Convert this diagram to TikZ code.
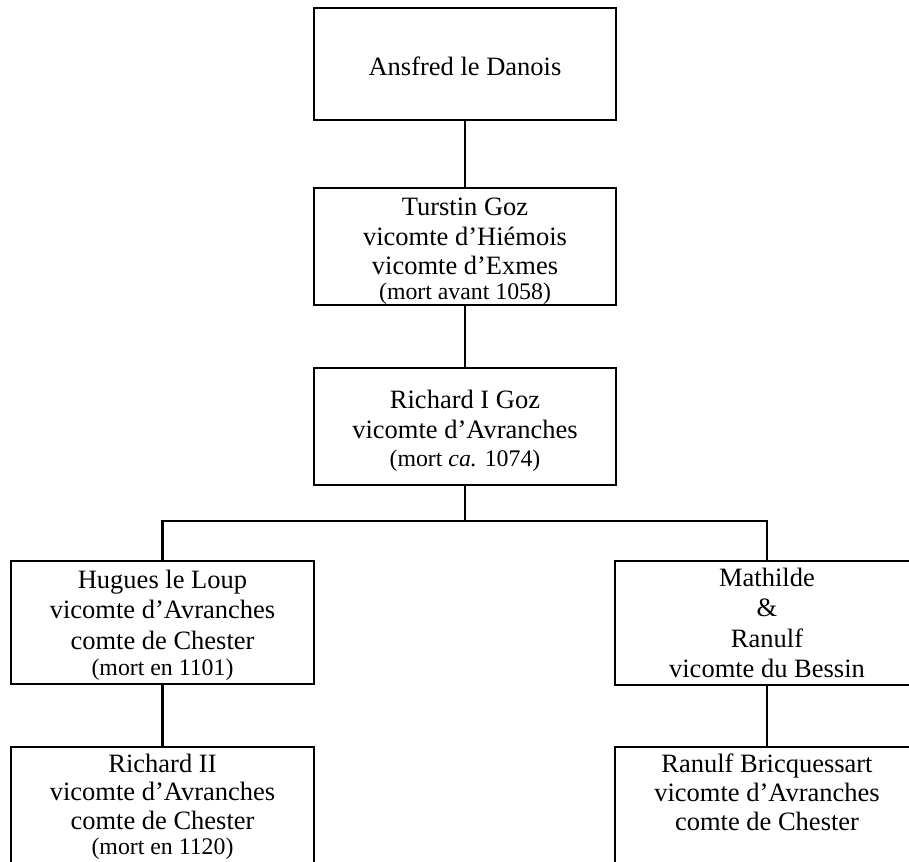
\documentclass[tikz,border=0pt]{standalone}
\usepackage{fontspec}
\setmainfont{Liberation Serif}
\newcommand{\petit}[1]{{\fontsize{23.8pt}{27pt}\selectfont #1}}
\newcommand{\toph}[1]{\rule{0pt}{#1pt}}
\newcommand{\botd}[1]{\rule[-#1pt]{0pt}{#1pt}}
\begin{document}
\begin{tikzpicture}[x=1pt,y=-1pt,
  box/.style={draw, line width=2.4pt, rectangle, align=center, inner sep=0pt, anchor=north,
              font=\fontsize{26.5pt}{30.5pt}\selectfont},
  link/.style={line width=2.4pt}]
\useasboundingbox (0,0) rectangle (909,861);
\clip (0,0) rectangle (909,861);
\node[box, minimum width=302pt] (ansfred) at (465,7)
  {\rule[-45pt]{0pt}{112pt}Ansfred le Danois};
\node[box, minimum width=302pt] (turstin) at (465,187)
  {\toph{27}Turstin Goz\\[-0.5pt]vicomte d’Hiémois\\[-1.5pt]vicomte d’Exmes\\[-5.5pt]\petit{(mort avant 1058)\botd{6}}};
\node[box, minimum width=302pt] (richard1) at (465,367)
  {\toph{40}Richard I Goz\\vicomte d’Avranches\\[-2.5pt]\petit{(mort \textit{ca.} 1074)\botd{18}}};
\node[box, minimum width=303pt] (hugues) at (162.5,560)
  {\toph{27}Hugues le Loup\\vicomte d’Avranches\\comte de Chester\\[-4pt]\petit{(mort en 1101)\botd{8}}};
\node[box, minimum width=304pt] (mathilde) at (767,560)
  {\toph{25}Mathilde\\\&\\Ranulf\\vicomte du Bessin\botd{7}};
\node[box, minimum width=303pt, font=\fontsize{26.5pt}{28.5pt}\selectfont] (richard2) at (162.5,746)
  {\toph{25}Richard II\\vicomte d’Avranches\\comte de Chester\\[-3.5pt]\petit{(mort en 1120)\botd{12}}};
\node[box, minimum width=304pt, font=\fontsize{26.5pt}{29pt}\selectfont] (ranulfb) at (767,746)
  {\toph{25}Ranulf Bricquessart\\vicomte d’Avranches\\comte de Chester\botd{36}};
\coordinate (bar) at (465,521);
\draw[link] (ansfred.south) -- (turstin.north);
\draw[link] (turstin.south) -- (richard1.north);
\draw[link] (richard1.south) -- (bar);
\draw[link] (hugues.north) -- (hugues.north |- bar) -- (mathilde.north |- bar) -- (mathilde.north);
\draw[link] (hugues.south) -- (richard2.north);
\draw[link] (mathilde.south) -- (ranulfb.north);
\end{tikzpicture}
\end{document}
